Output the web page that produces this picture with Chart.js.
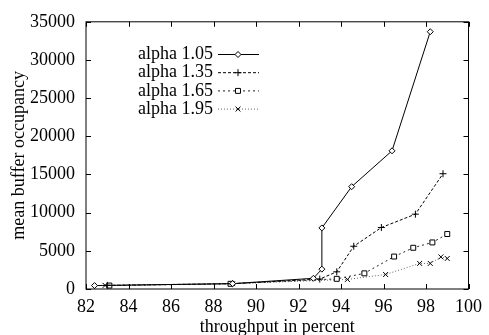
<!DOCTYPE html>
<html>
<head>
<meta charset="utf-8">
<script src="https://cdn.jsdelivr.net/npm/chart.js@4/dist/chart.umd.min.js"></script>
<style>
  html, body { margin: 0; padding: 0; background: #fff; }
  #wrap { width: 489px; height: 335px; }
</style>
</head>
<body>
<div id="wrap"><canvas id="chart"></canvas></div>
<script>
// ---- data ----
const seriesNames = ['alpha 1.05', 'alpha 1.35', 'alpha 1.65', 'alpha 1.95'];

const x105 = [82.4, 88.9, 92.7, 93.1, 93.1, 94.5, 96.4, 98.2];
const y105 = [450, 700, 1400, 2600, 8000, 13400, 18100, 33700];

const x135 = [83.0, 88.9, 93.0, 93.8, 94.6, 95.9, 97.5, 98.8];
const y135 = [480, 700, 1300, 2250, 5600, 8050, 9800, 15100];

const x165 = [83.1, 88.8, 93.8, 95.1, 96.5, 97.4, 98.3, 99.0];
const y165 = [450, 680, 1330, 2050, 4250, 5400, 6100, 7200];

const x195 = [82.9, 88.9, 94.3, 96.1, 97.7, 98.2, 98.7, 99.0];
const y195 = [470, 700, 1250, 1900, 3350, 3350, 4200, 4000];

const xTicks = [82, 84, 86, 88, 90, 92, 94, 96, 98, 100];
const yTicks = [0, 5000, 10000, 15000, 20000, 25000, 30000, 35000];

const FONT = "'Liberation Serif', 'Times New Roman', serif";
const FS = 18;

function pts(xs, ys) {
    return xs.map((x, i) => ({ x: x, y: ys[i] }));
}

// line / marker style per series
const styles = [
    { dash: [],     color: '#000', point: 'rectRot',  radius: 3,   fill: '#fff' },
    { dash: [3, 2], color: '#000', point: 'cross',    radius: 3.5, fill: '#000' },
    { dash: [2, 3], color: '#222', point: 'rect',     radius: 3.5, fill: '#fff' },
    { dash: [1, 2], color: '#666', point: 'crossRot', radius: 3.5, fill: '#000' },
];
const allX = [x105, x135, x165, x195];
const allY = [y105, y135, y165, y195];

const datasets = seriesNames.map((name, i) => ({
    label: name,
    data: pts(allX[i], allY[i]),
    showLine: true,
    borderColor: styles[i].color,
    borderWidth: 1,
    borderDash: styles[i].dash,
    pointStyle: styles[i].point,
    pointRadius: styles[i].radius,
    pointBackgroundColor: styles[i].fill,
    pointBorderColor: '#000',
    pointBorderWidth: 1,
    tension: 0,
}));

// ---- gnuplot-like frame with inward ticks + legend ----
const framePlugin = {
    id: 'frame',
    afterDraw(chart) {
        const ctx = chart.ctx;
        const a = chart.chartArea;
        const xs = chart.scales.x, ys = chart.scales.y;
        ctx.save();
        ctx.strokeStyle = '#000';
        ctx.lineWidth = 1;
        ctx.setLineDash([]);
        ctx.strokeRect(a.left, a.top, a.right - a.left, a.bottom - a.top);
        ctx.beginPath();
        xTicks.forEach(v => {
            const p = Math.round(xs.getPixelForValue(v)) + 0.5;
            ctx.moveTo(p, a.bottom); ctx.lineTo(p, a.bottom - 5);
            ctx.moveTo(p, a.top);    ctx.lineTo(p, a.top + 5);
        });
        yTicks.forEach(v => {
            const p = Math.round(ys.getPixelForValue(v)) + 0.5;
            ctx.moveTo(a.left, p);  ctx.lineTo(a.left + 5, p);
            ctx.moveTo(a.right, p); ctx.lineTo(a.right - 5, p);
        });
        ctx.stroke();

        // legend, gnuplot style (text right aligned, sample line + marker)
        ctx.font = FS + 'px ' + FONT;
        ctx.textAlign = 'right';
        ctx.textBaseline = 'middle';
        seriesNames.forEach((name, i) => {
            const y = 54.5 + i * 18.2;
            const st = styles[i];
            ctx.fillStyle = '#000';
            ctx.fillText(name, 213, y);
            ctx.strokeStyle = st.color;
            ctx.setLineDash(st.dash);
            ctx.beginPath();
            ctx.moveTo(218, y); ctx.lineTo(259, y);
            ctx.stroke();
            ctx.setLineDash([]);
            ctx.strokeStyle = '#000';
            ctx.fillStyle = st.fill;
            Chart.helpers.drawPoint(ctx, { pointStyle: st.point, radius: st.radius, rotation: 0, borderWidth: 1 }, 238, y);
        });
        ctx.restore();
    }
};

new Chart(document.getElementById('chart'), {
    type: 'scatter',
    data: { datasets: datasets },
    plugins: [framePlugin],
    options: {
        responsive: true,
        maintainAspectRatio: false,
        animation: false,
        layout: { padding: { top: 15, right: 13, left: 0, bottom: 0 } },
        plugins: { legend: { display: false }, tooltip: { enabled: false } },
        scales: {
            x: {
                type: 'linear', min: 82, max: 100,
                afterBuildTicks: s => { s.ticks = xTicks.map(v => ({ value: v })); },
                afterFit: s => { s.height = 46; },
                grid: { display: false, drawTicks: false },
                border: { display: false },
                ticks: { color: '#000', padding: 7, maxRotation: 0, callback: v => String(v), font: { family: FONT, size: FS } },
                title: { display: true, text: 'throughput in percent', color: '#000', padding: { top: 0, bottom: -3 }, font: { family: FONT, size: FS } }
            },
            y: {
                type: 'linear', min: 0, max: 35000,
                afterBuildTicks: s => { s.ticks = yTicks.map(v => ({ value: v })); },
                afterFit: s => { s.width = 86; },
                grid: { display: false, drawTicks: false },
                border: { display: false },
                ticks: { color: '#000', padding: 11, callback: v => String(v), font: { family: FONT, size: FS } },
                title: { display: true, text: 'mean buffer occupancy', color: '#000', padding: { top: 8, bottom: 0 }, font: { family: FONT, size: FS } }
            }
        }
    }
});
</script>
</body>
</html>
